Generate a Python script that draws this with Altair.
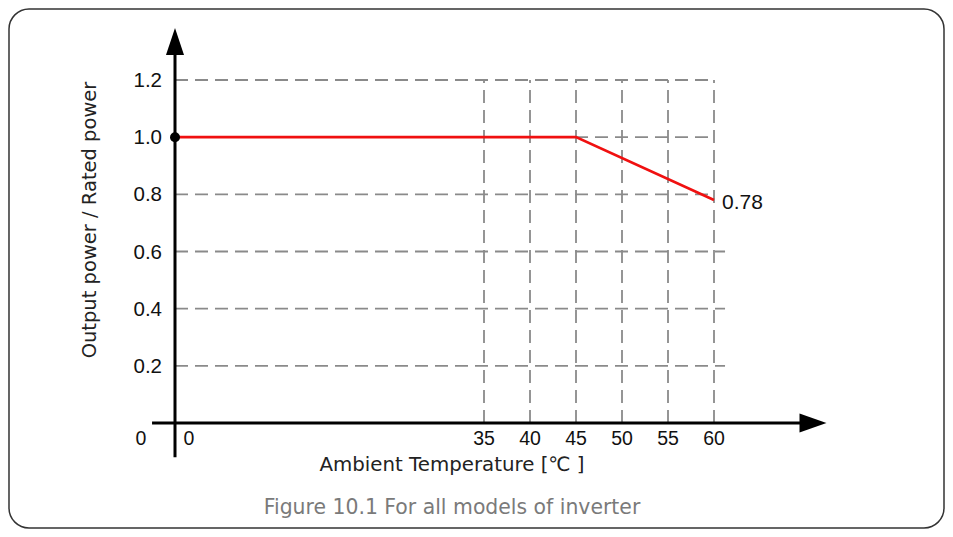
import altair as alt
import pandas as pd

# ---- data ----
temps = [0, 45, 60]
power = [1.0, 1.0, 0.78]
x_ticks = [35, 40, 45, 50, 55, 60]
y_ticks = [0.2, 0.4, 0.6, 0.8, 1.0, 1.2]
y_tick_labels = ["0.2", "0.4", "0.6", "0.8", "1.0", "1.2"]
h_grid_end = [61.2, 61.2, 61.2, 60, 60, 60]
x_axis_extent = [-2.6, 69.4]
y_axis_extent = [-0.12, 1.29]
x_arrow = [70.76]
y_arrow = [1.335]
end_label = "0.78"
x_title = "Ambient Temperature [℃ ]"
y_title = "Output power / Rated power"
caption = "Figure 10.1 For all models of inverter"

# ---- tables ----
curve = pd.DataFrame({"t": temps, "p": power})
hgrid = pd.DataFrame({"y": y_ticks, "x1": [0] * len(y_ticks), "x2": h_grid_end, "lab": y_tick_labels})
vgrid = pd.DataFrame({"x": x_ticks, "y1": [0] * len(x_ticks), "y2": [1.2] * len(x_ticks),
                      "lab": [str(v) for v in x_ticks]})
xaxis = pd.DataFrame({"x1": [x_axis_extent[0]], "x2": [x_axis_extent[1]], "y": [0]})
yaxis = pd.DataFrame({"y1": [y_axis_extent[0]], "y2": [y_axis_extent[1]], "x": [0]})
origin = pd.DataFrame({"x": [0], "y": [0], "lab": ["0"]})
endpt = pd.DataFrame({"x": [temps[-1]], "y": [power[-1]], "lab": [end_label]})
start = pd.DataFrame({"x": [temps[0]], "y": [power[0]]})
xarr = pd.DataFrame({"x": x_arrow, "y": [0]})
yarr = pd.DataFrame({"x": [0], "y": y_arrow})
titles = pd.DataFrame({"a": [0]})

xs = alt.Scale(domain=[0, 35, 60], range=[166, 475, 705], nice=False, zero=False)
ys = alt.Scale(domain=[0, 1.2], range=[414, 71], nice=False, zero=False)

GRID = "#8a8a8a"
DASH = [13, 7]
TICKFONT = "Liberation Sans"
TITLEFONT = "DejaVu Sans"

def X(f):
    return alt.X(f, type="quantitative", scale=xs, axis=None)

def Y(f):
    return alt.Y(f, type="quantitative", scale=ys, axis=None)

hlines = alt.Chart(hgrid).mark_rule(color=GRID, strokeWidth=1.8, strokeDash=DASH).encode(
    x=X("x1"), x2="x2", y=Y("y"))
vlines = alt.Chart(vgrid).mark_rule(color=GRID, strokeWidth=1.8, strokeDash=DASH).encode(
    x=X("x"), y=Y("y1"), y2="y2")

xline = alt.Chart(xaxis).mark_rule(color="black", strokeWidth=3).encode(x=X("x1"), x2="x2", y=Y("y"))
yline = alt.Chart(yaxis).mark_rule(color="black", strokeWidth=3).encode(y=Y("y1"), y2="y2", x=X("x"))

xhead = alt.Chart(xarr).mark_point(shape="M1,0L-1,-0.7L-1,0.7Z", size=729, filled=True,
                                   color="black", opacity=1, strokeWidth=0).encode(x=X("x"), y=Y("y"))
yhead = alt.Chart(yarr).mark_point(shape="M0,-1L-0.667,1L0.667,1Z", size=729, filled=True,
                                   color="black", opacity=1, strokeWidth=0).encode(x=X("x"), y=Y("y"))

line = alt.Chart(curve).mark_line(color="#f01010", strokeWidth=2.6).encode(x=X("t"), y=Y("p"))
dot = alt.Chart(start).mark_point(filled=True, color="black", size=100, opacity=1).encode(x=X("x"), y=Y("y"))

ylabels = alt.Chart(hgrid).mark_text(align="right", baseline="middle", dx=-13, dy=1, fontSize=20.5,
                                     font=TICKFONT, color="#111").encode(
    x=alt.X("x1", type="quantitative", scale=xs, axis=None), y=Y("y"), text="lab:N")
xlabels = alt.Chart(vgrid).mark_text(align="center", baseline="middle", dy=16, fontSize=19.5,
                                     font=TICKFONT, color="#111").encode(
    x=X("x"), y=Y("y1"), text="lab:N")
o_left = alt.Chart(origin).mark_text(align="center", baseline="middle", dx=-34, dy=16, fontSize=19.5,
                                     font=TICKFONT, color="#111").encode(x=X("x"), y=Y("y"), text="lab:N")
o_right = alt.Chart(origin).mark_text(align="center", baseline="middle", dx=14, dy=16, fontSize=19.5,
                                      font=TICKFONT, color="#111").encode(x=X("x"), y=Y("y"), text="lab:N")
endtxt = alt.Chart(endpt).mark_text(align="left", baseline="middle", dx=8, dy=3, fontSize=21,
                                    font=TICKFONT, color="#111").encode(x=X("x"), y=Y("y"), text="lab:N")

xt = alt.Chart(titles).mark_text(text=x_title, align="center", baseline="middle", fontSize=19.8,
                                 font=TITLEFONT, color="#222").encode(x=alt.value(443), y=alt.value(456))
yt = alt.Chart(titles).mark_text(text=y_title, align="center", baseline="middle", angle=270, fontSize=19.5,
                                 font=TITLEFONT, color="#222").encode(x=alt.value(81), y=alt.value(211))
cap = alt.Chart(titles).mark_text(text=caption, align="center", baseline="middle", fontSize=20.4,
                                  font=TITLEFONT, color="#7a7a7a").encode(x=alt.value(443), y=alt.value(499))

chart = alt.layer(
    hlines, vlines, xline, yline, xhead, yhead, line, dot,
    ylabels, xlabels, o_left, o_right, endtxt, xt, yt, cap
).properties(
    width=935, height=519, padding=1, autosize="none"
).configure_view(
    stroke="#333333", strokeWidth=1.5, cornerRadius=20
)

chart.save("out.html", embed_options={"renderer": "svg", "actions": False})
